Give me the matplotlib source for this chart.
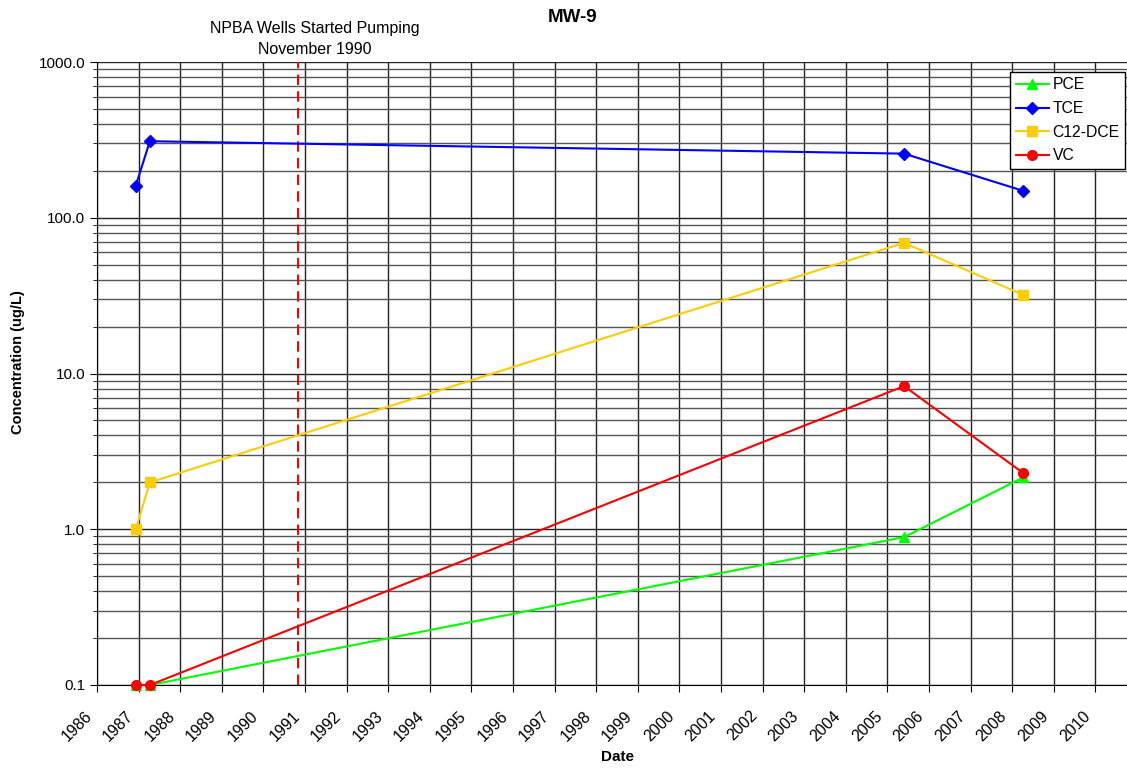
import matplotlib
matplotlib.use("Agg")
import matplotlib.pyplot as plt
import matplotlib.transforms as mtransforms
from matplotlib.ticker import LogLocator, FixedLocator, FormatStrFormatter, NullFormatter

plt.rcParams['font.family'] = ['Liberation Sans', 'DejaVu Sans']

# sample dates as decimal years
dates = [1986.93, 1987.27, 2005.40, 2008.26]
pce = [0.1, 0.1, 0.89, 2.15]
tce = [160, 310, 258, 149]
dce = [1.0, 2.0, 69, 32]
vc = [0.1, 0.1, 8.3, 2.3]
pumping_start = 1990.83
years = list(range(1986, 2011))

fig = plt.figure(figsize=(11.27, 7.69), dpi=100)
ax = fig.add_axes([97 / 1127, 84 / 769, 1040 / 1127, 623 / 769])

ax.set_yscale('log')
ax.set_xlim(1986, 2011)
ax.set_ylim(0.1, 1000)

# gridlines
ax.xaxis.set_major_locator(FixedLocator(years))
ax.yaxis.set_major_locator(LogLocator(base=10, numticks=10))
ax.yaxis.set_minor_locator(LogLocator(base=10, subs=range(2, 10), numticks=10))
ax.yaxis.set_major_formatter(FormatStrFormatter('%.1f'))
ax.yaxis.set_minor_formatter(NullFormatter())
ax.grid(True, which='major', axis='both', color='#222222', lw=1.0)
ax.grid(True, which='minor', axis='y', color='#555555', lw=1.0)
ax.tick_params(axis='both', which='major', direction='out', length=5)
ax.tick_params(axis='y', which='major', labelsize=11)
ax.tick_params(axis='y', which='minor', direction='out', length=3)
ax.tick_params(axis='x', pad=8)
ax.set_xticklabels([str(y) for y in years], rotation=45, ha='right',
                   rotation_mode='anchor', fontsize=11.5)
# nudge the rotated year labels left/down like the original
shift = mtransforms.ScaledTranslation(-13 / 100, -5 / 100, fig.dpi_scale_trans)
for lbl in ax.get_xticklabels():
    lbl.set_transform(lbl.get_transform() + shift)
for s in ['top', 'right']:
    ax.spines[s].set_visible(False)
ax.set_axisbelow(True)

ax.plot(dates, pce, color='#00FF00', marker='^', ms=7, lw=1.5, label='PCE', clip_on=False, zorder=3)
ax.plot(dates, tce, color='#0000FF', marker='D', ms=6, lw=1.5, label='TCE', clip_on=False, zorder=3)
ax.plot(dates, dce, color='#FFCC00', marker='s', ms=7, lw=1.5, label='C12-DCE', clip_on=False, zorder=3)
ax.plot(dates, vc, color='#FF0000', marker='o', ms=7, lw=1.5, label='VC', clip_on=False, zorder=4)

ax.axvline(pumping_start, color='#FF0000', lw=1.5, ls=(0, (5, 3)), zorder=2)

leg = ax.legend(loc='upper left', bbox_to_anchor=(0.878, 0.984), fontsize=11.3,
                frameon=True, fancybox=False, edgecolor='black', framealpha=1,
                borderaxespad=0, handlelength=2.1, labelspacing=0.55,
                handletextpad=0.25, borderpad=0.35)
leg.get_frame().set_linewidth(1.0)

fig.text(573 / 1127, 1 - 17 / 769, 'MW-9', ha='center', va='center',
         fontsize=13.5, fontweight='bold')
fig.text(315 / 1127, 1 - 39 / 769, 'NPBA Wells Started Pumping\nNovember 1990',
         ha='center', va='center', fontsize=11.5, linespacing=1.45)
fig.text(617 / 1127, 1 - 757 / 769, 'Date', ha='center', va='center',
         fontsize=11, fontweight='bold')
fig.text(18 / 1127, 1 - 362 / 769, 'Concentration (ug/L)', ha='center', va='center',
         rotation=90, fontsize=10.5, fontweight='bold')

fig.savefig('out.png', dpi=100)
